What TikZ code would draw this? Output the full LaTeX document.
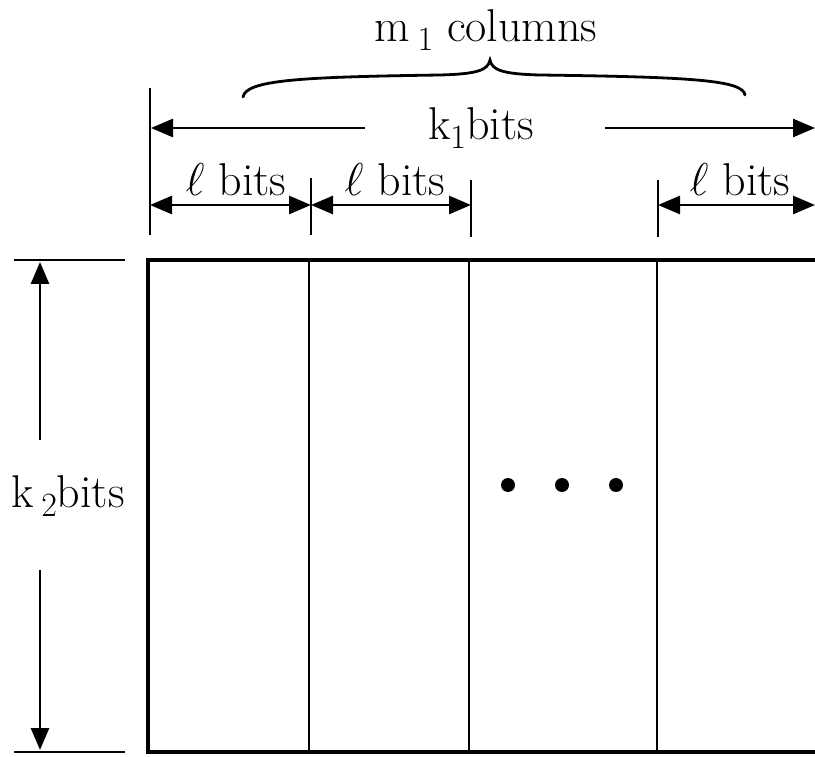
\RequirePackage{fix-cm}
\documentclass[tikz,border=0pt]{standalone}
\usetikzlibrary{arrows.meta}
% lowered subscript digit, a little larger than TeX's default script size
\newcommand{\lowsub}[1]{\raisebox{-9pt}{\fontsize{34}{40}\selectfont #1}}
\begin{document}
\begin{tikzpicture}[x=1pt,y=-1pt,
  headR/.style={-{Triangle[length=22pt,width=18pt]}},
  headLR/.style={{Triangle[length=22pt,width=18pt]}-{Triangle[length=22pt,width=18pt]}},
  dim/.style={line width=2.6pt},
  tick/.style={line width=2.8pt},
  frame/.style={line width=4.6pt},
  sep/.style={line width=2.8pt},
  lbl/.style={font=\fontsize{46}{54}\selectfont, inner sep=0pt, anchor=base}]
\useasboundingbox (0,0) rectangle (815,757);

% the block of columns (open on the right)
\coordinate (fTR) at (815,260);
\coordinate (fTL) at (148,260);
\coordinate (fBL) at (148,752);
\coordinate (fBR) at (815,752);
\draw[frame, line join=miter] (fTR) -- (fTL) -- (fBL) -- (fBR);
\foreach \x/\n in {309/a,469/b,657/c}{
  \coordinate (s\n t) at (\x,260);
  \coordinate (s\n b) at (\x,752);
  \draw[sep] (s\n t) -- (s\n b);
}
\foreach \x/\n in {508/1,562/2,616/3}
  \fill (\x,485) circle (7) coordinate (dot\n);

% height dimension
\coordinate (hTa) at (14,260);  \coordinate (hTb) at (125,260);
\coordinate (hBa) at (14,752);  \coordinate (hBb) at (125,752);
\draw[tick] (hTa) -- (hTb);
\draw[tick] (hBa) -- (hBb);
\node[lbl] (k2) at (68,507) {k\,\lowsub{2}bits};
\coordinate (vUp) at (40,440);   \coordinate (vTop) at (40,262);
\coordinate (vDn) at (40,570);   \coordinate (vBot) at (40,750);
\draw[dim,headR] (vUp) -- (vTop);
\draw[dim,headR] (vDn) -- (vBot);

% width ticks
\coordinate (t0a) at (150,88);  \coordinate (t0b) at (150,235);
\coordinate (t1a) at (311,178); \coordinate (t1b) at (311,235);
\coordinate (t2a) at (471,180); \coordinate (t2b) at (471,237);
\coordinate (t3a) at (658,180); \coordinate (t3b) at (658,237);
\foreach \n in {0,1,2,3} \draw[tick] (t\n a) -- (t\n b);

% total width
\node[lbl] (k1) at (481,140) {k\lowsub{1}bits};
\coordinate (wL) at (365,128); \coordinate (wLtip) at (151,128);
\coordinate (wR) at (605,128); \coordinate (wRtip) at (815,128);
\draw[dim,headR] (wL) -- (wLtip);
\draw[dim,headR] (wR) -- (wRtip);

% column widths
\coordinate (c0) at (150,205); \coordinate (c1) at (311,205);
\coordinate (c2) at (471,205); \coordinate (c3) at (658,205);
\coordinate (c4) at (815,205);
\draw[dim,headLR] (c0) -- (c1);
\draw[dim,headLR] (c1) -- (c2);
\draw[dim,headLR] (c3) -- (c4);
\node[lbl] (l1) at (236,196) {$\ell$ bits};
\node[lbl] (l2) at (395,196) {$\ell$ bits};
\node[lbl] (l3) at (740,196) {$\ell$ bits};

% brace over the columns
\node[lbl] (m1) at (486,42) {m\,\lowsub{1} columns};
\coordinate (bL) at (243,97);
\coordinate (bR) at (745,95);
\coordinate (bM) at (490,60);
\draw[line width=2.8pt, line cap=round]
  (bL) .. controls (246,80) and (300,77) .. (440,75)
       .. controls (478,74) and (488,70) .. (bM)
       .. controls (492,70) and (502,74) .. (540,75)
       .. controls (690,77) and (743,80) .. (bR);
\end{tikzpicture}
\end{document}
